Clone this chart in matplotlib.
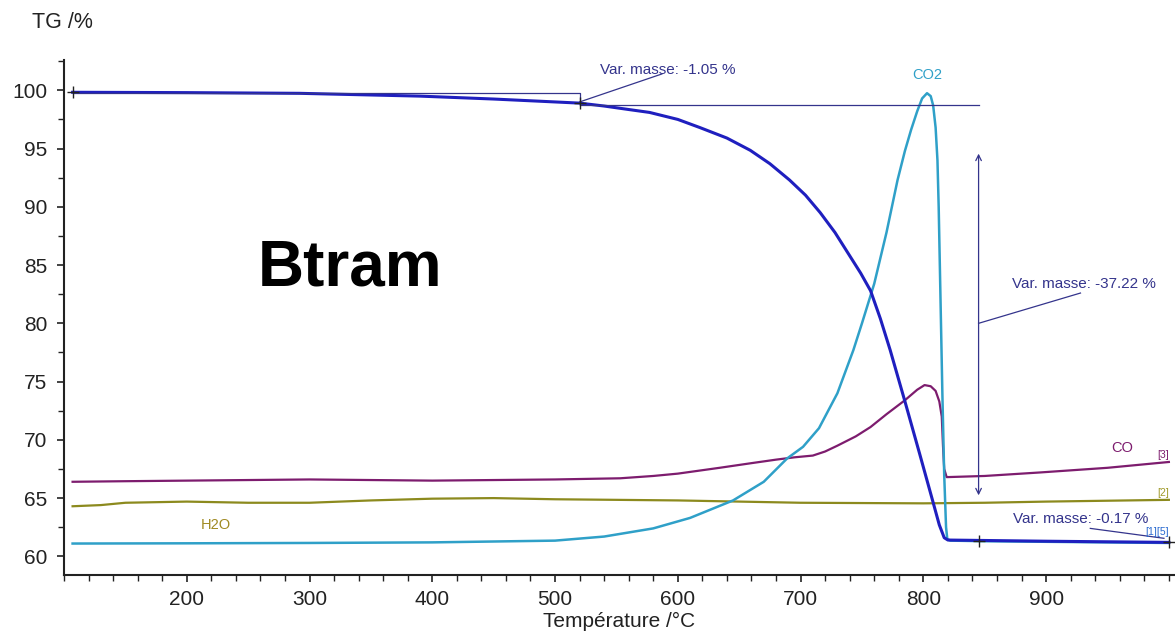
import numpy as np
import matplotlib
matplotlib.use("Agg")
import matplotlib.pyplot as plt
from matplotlib.ticker import MultipleLocator, FixedLocator

plt.rcParams['font.family'] = ['Liberation Sans', 'DejaVu Sans']

# TG curve (mass %)
tg_t = [107, 200, 292, 390, 450, 520, 540, 560, 577, 600, 618, 640, 659, 675, 691, 704, 716, 728, 740,
        749, 757, 765, 773, 785, 797, 807, 813, 817, 820, 900, 1000]
tg_v = [99.83, 99.8, 99.74, 99.5, 99.25, 98.9, 98.65, 98.35, 98.1, 97.5, 96.8, 95.9, 94.85, 93.7, 92.3,
        91.0, 89.5, 87.8, 85.8, 84.3, 82.8, 80.4, 77.7, 73.3, 68.8, 65.0, 62.7, 61.6, 61.4, 61.3, 61.2]

# CO2 signal (scaled)
co2_t = [107, 200, 300, 400, 500, 540, 580, 610, 645, 670, 689, 702, 715, 730, 743, 750, 760, 770, 779,
         785, 790, 795, 799, 803, 806, 808, 810, 811.5, 812.5, 814, 815.5, 817, 818.5, 819.5, 822, 850, 1000]
co2_v = [61.1, 61.12, 61.15, 61.2, 61.35, 61.7, 62.4, 63.3, 64.8, 66.4, 68.4, 69.4, 71.0, 74.0, 77.7, 80.0,
         83.4, 87.8, 92.3, 94.8, 96.6, 98.2, 99.3, 99.75, 99.5, 98.7, 96.8, 94.0, 90.0, 82.0, 74.0, 67.0,
         62.5, 61.5, 61.35, 61.3, 61.15]

# CO signal
co_t = [107, 150, 200, 250, 300, 350, 400, 450, 500, 553, 580, 600, 634, 660, 680, 695, 710, 720, 730,
        745, 757, 770, 785, 795, 801, 806, 810, 813, 815, 816, 817, 819, 850, 895, 950, 1000]
co_v = [66.4, 66.45, 66.5, 66.55, 66.6, 66.55, 66.5, 66.55, 66.6, 66.7, 66.9, 67.1, 67.6, 68.0, 68.3,
        68.5, 68.65, 69.0, 69.5, 70.3, 71.1, 72.2, 73.4, 74.3, 74.7, 74.6, 74.2, 73.3, 72.0, 69.5, 67.5,
        66.8, 66.9, 67.2, 67.6, 68.1]

# H2O signal
h2o_t = [107, 130, 150, 200, 250, 300, 350, 400, 450, 500, 600, 700, 800, 850, 900, 1000]
h2o_v = [64.3, 64.4, 64.6, 64.7, 64.6, 64.6, 64.8, 64.95, 65.0, 64.9, 64.8, 64.6, 64.55, 64.6, 64.7, 64.85]

c_tg = '#1f1fbf'
c_co2 = '#2fa0c8'
c_co = '#7d1c6e'
c_h2o = '#8c8a1e'
c_ann = '#34348c'

fig = plt.figure(figsize=(11.75, 6.35), dpi=100)
ax = fig.add_axes([64/1175, 60/635, 1111/1175, 515/635])

ax.plot(h2o_t, h2o_v, color=c_h2o, lw=1.6)
ax.plot(co_t, co_v, color=c_co, lw=1.6)
ax.plot(co2_t, co2_v, color=c_co2, lw=1.8)
ax.plot(tg_t, tg_v, color=c_tg, lw=2.2)

# step annotation -1.05 %
ax.plot([107, 520, 520], [99.78, 99.78, 98.7], color=c_ann, lw=0.9)
ax.plot([520, 845], [98.7, 98.7], color=c_ann, lw=0.9)
ax.plot([520, 587], [99.0, 101.4], color=c_ann, lw=0.9)
ax.text(537, 101.7, 'Var. masse: -1.05 %', color=c_ann, fontsize=11, va='center')

# -37.22 % double arrow
ax.annotate('', xy=(845, 94.8), xytext=(845, 65.0),
            arrowprops=dict(arrowstyle='<->', color=c_ann, lw=0.9))
ax.plot([845, 928], [80.0, 82.6], color=c_ann, lw=0.9)
ax.text(872, 83.4, 'Var. masse: -37.22 %', color=c_ann, fontsize=11, va='center')

# -0.17 %
ax.plot([936, 996], [62.4, 61.55], color=c_ann, lw=0.9)
ax.text(873, 63.2, 'Var. masse: -0.17 %', color=c_ann, fontsize=11, va='center')

ax.plot([107, 520, 845, 1000], [99.83, 98.9, 61.35, 61.2], ls='none', marker='+',
        color='#222222', ms=9, mew=1)

ax.text(803, 101.3, 'CO2', color=c_co2, fontsize=10.5, ha='center', va='center')
ax.text(962, 69.3, 'CO', color=c_co, fontsize=10.5, ha='center', va='center')
ax.text(224, 62.7, 'H2O', color='#a08a22', fontsize=10.5, ha='center', va='center')
ax.text(1000, 68.7, '[3]', color=c_co, fontsize=7.5, ha='right', va='center')
ax.text(1000, 65.4, '[2]', color='#a09a2a', fontsize=7.5, ha='right', va='center')
ax.text(1000, 62.1, '[1][5]', color='#2a6ad0', fontsize=7.5, ha='right', va='center')

ax.text(258, 84.7, 'Btram', fontsize=46, fontweight='bold', ha='left', va='center')
fig.text(32/1175, 1 - 22/635, 'TG /%', fontsize=15.5, ha='left', va='center', color='#222222')

ax.set_xlim(100, 1005)
ax.set_ylim(58.4, 102.6)
ax.xaxis.set_major_locator(FixedLocator([200, 300, 400, 500, 600, 700, 800, 900]))
ax.xaxis.set_minor_locator(MultipleLocator(20))
ax.yaxis.set_minor_locator(MultipleLocator(2.5))
ax.set_yticks([60, 65, 70, 75, 80, 85, 90, 95, 100])
ax.tick_params(axis='both', which='major', direction='out', length=5, width=1.2,
               labelsize=15, colors='#222222')
ax.tick_params(axis='both', which='minor', direction='out', length=4, width=1.0, colors='#222222')
ax.tick_params(axis='y', pad=7)
ax.tick_params(axis='x', pad=6)
for s in ['top', 'right']:
    ax.spines[s].set_visible(False)
for s in ['left', 'bottom']:
    ax.spines[s].set_linewidth(1.5)
    ax.spines[s].set_color('#222222')
ax.set_xlabel('Température /°C', fontsize=15, labelpad=2, color='#222222')

fig.savefig('out.png', dpi=100)
